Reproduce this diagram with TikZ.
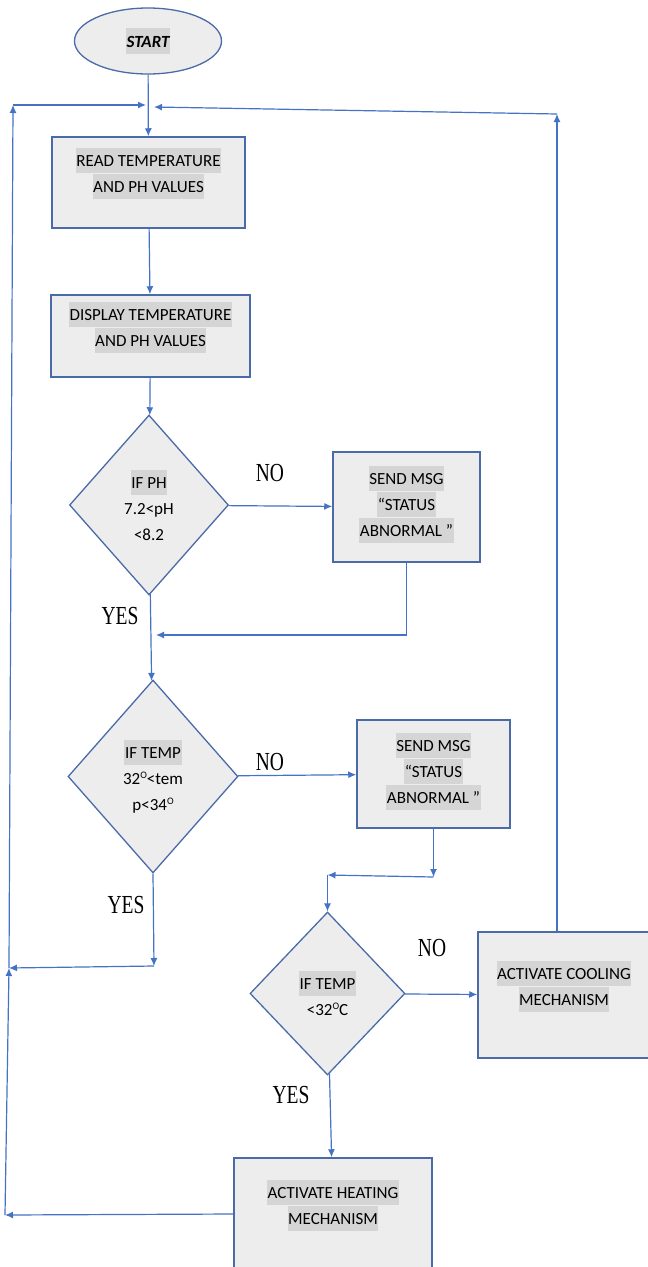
\documentclass[tikz,border=0pt]{standalone}
\usepackage{fontspec}
\newfontfamily\calib{Carlito}
\newfontfamily\tnr[FakeStretch=0.75]{Liberation Serif}
\usepackage{tikz}
\usetikzlibrary{shapes.geometric,arrows.meta,positioning,calc}
\definecolor{boxfill}{HTML}{EDEDED}
\definecolor{boxedge}{HTML}{4A6BA8}
\definecolor{flow}{HTML}{4472C4}
\definecolor{hlgray}{HTML}{D5D5D5}
\newcommand{\hl}[1]{{\setlength{\fboxsep}{0.6pt}\colorbox{hlgray}{\rule[-6pt]{0pt}{24pt}#1}}}
\newcommand{\degO}{\raisebox{6pt}{\fontsize{10}{10}\selectfont O}}

\begin{document}
\begin{tikzpicture}[
    x=1pt, y=-1pt,
    terminal/.style={ellipse, draw=boxedge, line width=1.3pt, fill=boxfill, inner sep=0pt, minimum width=147pt, minimum height=66pt, font=\calib\fontsize{17}{26}\selectfont\bfseries\itshape},
    process/.style={rectangle, draw=boxedge, line width=1.5pt, fill=boxfill, inner sep=0pt, align=center, text depth=24pt, font=\calib\fontsize{17}{26}\selectfont},
    decision/.style={diamond, draw=boxedge, line width=1.3pt, fill=boxfill, inner sep=0pt, align=center, font=\calib\fontsize{17}{26}\selectfont},
    lbl/.style={font=\tnr\fontsize{26}{30}\selectfont, inner sep=0pt},
    line/.style={draw=flow, line width=1.2pt, -{Latex[length=8pt,width=7pt]}}
]
    \useasboundingbox (0,0) rectangle (648,1267);

    \node [terminal] (start) at (148,41) {\hl{START}};
    \node [process, minimum width=193pt, minimum height=91pt] (read) at (148.5,182.5) {\hl{READ TEMPERATURE}\\\hl{AND PH VALUES}};
    \node [process, minimum width=199pt, minimum height=82pt] (display) at (150.5,336) {\hl{DISPLAY TEMPERATURE}\\\hl{AND PH VALUES}};
    \node [decision, minimum width=159pt, minimum height=180pt] (ph) at (149,505) {\hl{IF PH}\\7.2<pH\\<8.2};
    \node [process, minimum width=147pt, minimum height=110pt, text depth=12pt] (msgph) at (406.5,507) {\hl{SEND MSG}\\\hl{“STATUS}\\\hl{ABNORMAL ”}};
    \node [decision, minimum width=170pt, minimum height=193pt] (temp) at (153,776.5) {\hl{IF TEMP}\\32\degO<tem\\p<34\degO};
    \node [process, minimum width=153pt, minimum height=108pt, text depth=12pt] (msgtemp) at (433.5,774) {\hl{SEND MSG}\\\hl{“STATUS}\\\hl{ABNORMAL ”}};
    \node [decision, minimum width=155pt, minimum height=163pt] (low) at (327.5,993.5) {\hl{IF TEMP}\\<32\degO C};
    \node [process, minimum width=172pt, minimum height=126pt] (cool) at (564,995) {\hl{ACTIVATE COOLING}\\\hl{MECHANISM}};
    \node [process, minimum width=198pt, minimum height=112pt] (heat) at (333,1214) {\hl{ACTIVATE HEATING}\\\hl{MECHANISM}};

    % branch labels
    \node [lbl] (no1) at (270,473) {NO};
    \node [lbl] (yes1) at (120,616) {YES};
    \node [lbl] (no2) at (270,762) {NO};
    \node [lbl] (yes2) at (126,905) {YES};
    \node [lbl] (no3) at (432,948) {NO};
    \node [lbl] (yes3) at (291,1095) {YES};

    % turning points
    \coordinate (phjoin) at (156,635);
    \coordinate (tempturn) at (433.5,877);
    \coordinate (lowin) at (327.5,875);
    \coordinate (coolup) at (557,114);
    \coordinate (rightin) at (154,107);
    \coordinate (tempout) at (154,966);
    \coordinate (leftmid) at (9,968);
    \coordinate (leftbot) at (5,1215);
    \coordinate (lefttop) at (13,105);
    \coordinate (leftin) at (146,105);

    \foreach \a/\b in {start/read, read/display, display/ph, ph/msgph, ph/temp, temp/msgtemp, low/cool, low/heat} {
        \draw [line] (\a) -- (\b);
    }
    \draw [line] (msgph.south) |- (phjoin);
    \draw [line] (msgtemp.south) -- (tempturn);
    \draw [line] (tempturn) -- (lowin);
    \draw [line] (lowin) -- (low.north);
    \draw [line] (cool.north -| coolup) -- (coolup);
    \draw [line] (coolup) -- (rightin);
    \draw [line] (temp.south) -- (tempout);
    \draw [line] (tempout) -- (leftmid);
    \draw [line] (heat.west) -- (leftbot);
    \draw [line] (leftbot) -- (leftmid);
    \draw [line] (leftmid) -- (lefttop);
    \draw [line] (lefttop) -- (leftin);
\end{tikzpicture}
\end{document}
